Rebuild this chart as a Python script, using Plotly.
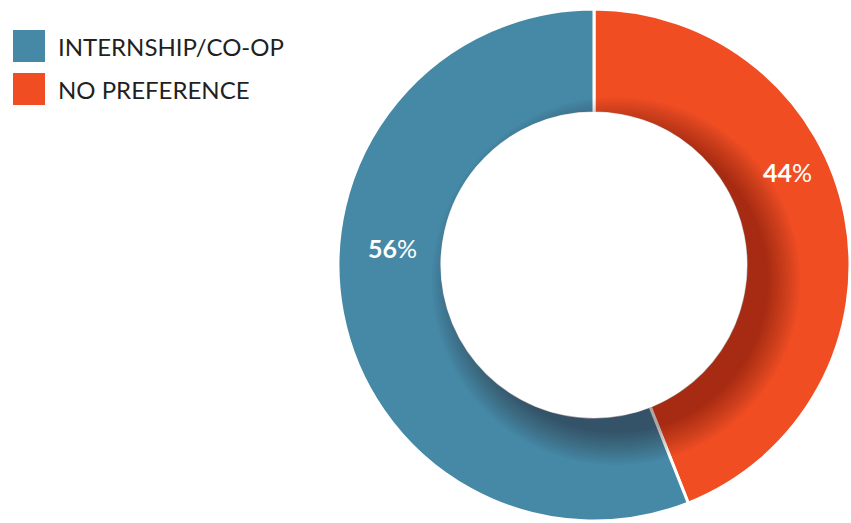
import plotly.graph_objects as go

# ---- data ----
categories = ["INTERNSHIP/CO-OP", "NO PREFERENCE"]
values = [56, 44]
colors = ["#4589A6", "#F04D23"]
pct_labels = [f"<b>{v}</b>%" for v in values]

W, H = 851, 523
CX, CY = 594, 265          # pie centre in pixels (from top-left)
R = 256                    # outer radius
HOLE = 0.594
r_in = R * HOLE

def px(x):
    return x / W

def py(y):
    return 1 - y / H

# NO PREFERENCE runs clockwise from 12 o'clock, then INTERNSHIP/CO-OP
fig = go.Figure(go.Pie(
    labels=categories[::-1],
    values=values[::-1],
    sort=False,
    direction="clockwise",
    rotation=0,
    hole=HOLE,
    marker=dict(colors=colors[::-1], line=dict(color="white", width=3)),
    textinfo="none",
    hoverinfo="label+percent",
    showlegend=False,
    domain=dict(x=[px(CX - R), px(CX + R)], y=[py(CY + R), py(CY - R)]),
))

shapes = []
# soft shadow of the hole, cast down-right onto the ring
DX, DY = 22, 16
for k in range(0, 34, 2):
    shapes.append(dict(
        type="circle", layer="above",
        xref="paper", yref="paper", xsizemode="pixel", ysizemode="pixel",
        xanchor=px(CX + DX), yanchor=py(CY + DY),
        x0=-(r_in + k), x1=(r_in + k), y0=-(r_in + k), y1=(r_in + k),
        fillcolor="rgba(40,10,0,0.024)", line=dict(width=0),
    ))
# white hole on top
shapes.append(dict(
    type="circle", layer="above",
    xref="paper", yref="paper", xsizemode="pixel", ysizemode="pixel",
    xanchor=px(CX), yanchor=py(CY),
    x0=-(r_in + 1), x1=(r_in + 1), y0=-(r_in + 1), y1=(r_in + 1),
    fillcolor="white", line=dict(width=0),
))

# manual legend
leg_y = [46, 89]
annotations = []
for i, (cat, col) in enumerate(zip(categories, colors)):
    shapes.append(dict(
        type="rect", layer="above",
        xref="paper", yref="paper", xsizemode="pixel", ysizemode="pixel",
        xanchor=px(29), yanchor=py(leg_y[i]),
        x0=-16, x1=16, y0=-16, y1=16,
        fillcolor=col, line=dict(width=0),
    ))
    annotations.append(dict(
        text=cat, xref="paper", yref="paper",
        x=px(56), y=py(leg_y[i]), xanchor="left", yanchor="middle",
        showarrow=False,
        font=dict(family="Lato", size=24, color="#231F20"),
    ))

# percentage labels
label_pos = [(392, 248), (787, 172)]
for (lx, ly), t in zip(label_pos, pct_labels):
    annotations.append(dict(
        text=t, xref="paper", yref="paper",
        x=px(lx), y=py(ly), xanchor="center", yanchor="middle",
        showarrow=False,
        font=dict(family="Lato", size=25, color="white"),
    ))

fig.update_layout(
    width=W, height=H,
    margin=dict(l=0, r=0, t=0, b=0),
    paper_bgcolor="white", plot_bgcolor="white",
    shapes=shapes, annotations=annotations,
)

fig.write_html("out.html")
